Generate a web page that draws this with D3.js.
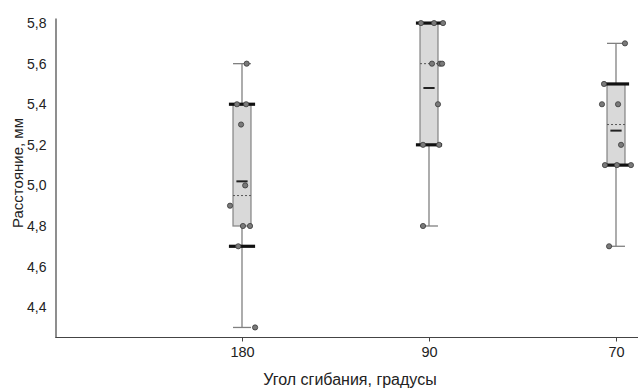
<!DOCTYPE html>
<html>
<head>
<meta charset="utf-8">
<style>
  body { margin: 0; background: #fff; }
  text { font-family: "Liberation Sans", Arial, sans-serif; }
</style>
</head>
<body>
<svg class="chart"></svg>
<script src="https://d3js.org/d3.v7.min.js"></script>
<script>
// categories (bending angle)
categories = ["180", "90", "70"]

// box statistics per category
boxLow   = [4.8, 5.2, 5.1]
boxHigh  = [5.4, 5.8, 5.5]
whiskLow = [4.3, 4.8, 4.7]
whiskHigh= [5.6, 5.8, 5.7]
means    = [5.02, 5.48, 5.27]
medians  = [4.95, 5.6, 5.3]
barLow   = [4.7, 5.2, 5.1]
barHigh  = [5.4, 5.8, 5.5]

// raw observations: value and horizontal jitter (category units)
points180 = [[4.3, 0.07], [5.6, 0.025], [5.4, -0.027], [5.4, 0.022], [5.3, -0.005], [5.0, 0.017],
             [4.9, -0.064], [4.8, 0.005], [4.8, 0.043], [4.7, -0.02]]
points90  = [[5.8, -0.043], [5.8, 0.027], [5.8, 0.075], [5.6, 0.016], [5.6, 0.059], [5.6, 0.07],
             [5.4, 0.048], [5.2, -0.032], [5.2, 0.054], [4.8, -0.032]]
points70  = [[5.7, 0.048], [5.5, -0.064], [5.4, -0.075], [5.4, 0.011], [5.2, 0.027],
             [5.1, -0.059], [5.1, 0.005], [5.1, 0.08], [4.7, -0.037]]
pointSets = [points180, points90, points70]

yTicks = [4.4, 4.6, 4.8, 5.0, 5.2, 5.4, 5.6, 5.8]

width  = 638
height = 390
margin = ({top: 18, right: 0, bottom: 52.5, left: 55.5})

x = d3.scaleLinear().domain([0, 3]).range([55, 616])
y = d3.scaleLinear().domain([4.2505, 5.825]).range([height - margin.bottom, margin.top])

const svg = d3.select("svg")
    .attr("width", width)
    .attr("height", height)
    .attr("viewBox", [0, 0, width, height]);

// axes
yAxis = g => g
    .attr("transform", `translate(${margin.left},0)`)
    .call(d3.axisLeft(y).tickValues(yTicks).tickSize(0).tickPadding(9)
        .tickFormat(d => d3.format(".1f")(d).replace(".", ",")))
    .call(g => g.select(".domain").attr("stroke", "#444").attr("stroke-width", 1.2))
    .call(g => g.selectAll("text").attr("font-size", 14).attr("fill", "#222"));

xAxis = g => g
    .attr("transform", `translate(0,${height - margin.bottom})`)
    .call(d3.axisBottom(x).tickValues([1, 2, 3]).tickSize(4).tickSizeOuter(0).tickPadding(5)
        .tickFormat(d => categories[d - 1]))
    .call(g => g.select(".domain").attr("stroke", "#444").attr("stroke-width", 1.2)
        .attr("d", `M${margin.left},0H${width}`))
    .call(g => g.selectAll(".tick line").attr("stroke", "#444"))
    .call(g => g.selectAll("text").attr("font-size", 14.5).attr("fill", "#222"));

svg.append("g").call(yAxis);
svg.append("g").call(xAxis);

const boxW = 0.048, capW = 0.048, barW = 0.07, meanW = 0.03;
const idx = d3.range(categories.length);
const g = svg.append("g");

// whiskers
g.selectAll("line.whisk")
  .data(idx)
  .join("line")
    .attr("x1", i => x(i + 1)).attr("x2", i => x(i + 1))
    .attr("y1", i => y(whiskLow[i])).attr("y2", i => y(whiskHigh[i]))
    .attr("stroke", "#808080").attr("stroke-width", 1.3);

g.selectAll("line.capLow")
  .data(idx)
  .join("line")
    .attr("x1", i => x(i + 1 - capW)).attr("x2", i => x(i + 1 + capW))
    .attr("y1", i => y(whiskLow[i])).attr("y2", i => y(whiskLow[i]))
    .attr("stroke", "#808080").attr("stroke-width", 1.3);

g.selectAll("line.capHigh")
  .data(idx)
  .join("line")
    .attr("x1", i => x(i + 1 - capW)).attr("x2", i => x(i + 1 + capW))
    .attr("y1", i => y(whiskHigh[i])).attr("y2", i => y(whiskHigh[i]))
    .attr("stroke", "#808080").attr("stroke-width", 1.3);

// boxes
g.selectAll("rect.box")
  .data(idx)
  .join("rect")
    .attr("x", i => x(i + 1 - boxW))
    .attr("width", x(1 + boxW) - x(1 - boxW))
    .attr("y", i => y(boxHigh[i]))
    .attr("height", i => y(boxLow[i]) - y(boxHigh[i]))
    .attr("fill", "#d9d9d9").attr("stroke", "#8a8a8a").attr("stroke-width", 1.3);

// median (dashed)
g.selectAll("line.median")
  .data(idx)
  .join("line")
    .attr("x1", i => x(i + 1 - boxW)).attr("x2", i => x(i + 1 + boxW))
    .attr("y1", i => y(medians[i])).attr("y2", i => y(medians[i]))
    .attr("stroke", "#555").attr("stroke-width", 1).attr("stroke-dasharray", "2,2");

// mean
g.selectAll("line.mean")
  .data(idx)
  .join("line")
    .attr("x1", i => x(i + 1 - meanW)).attr("x2", i => x(i + 1 + meanW))
    .attr("y1", i => y(means[i])).attr("y2", i => y(means[i]))
    .attr("stroke", "#222").attr("stroke-width", 2);

// thick bars
["low", "high"].forEach(k => {
  const arr = k === "low" ? barLow : barHigh;
  g.selectAll("line.bar" + k)
    .data(idx)
    .join("line")
      .attr("class", "bar" + k)
      .attr("x1", i => x(i + 1 - barW)).attr("x2", i => x(i + 1 + barW))
      .attr("y1", i => y(arr[i])).attr("y2", i => y(arr[i]))
      .attr("stroke", "#111").attr("stroke-width", 3.2);
});

// points
pointSets.forEach((pts, i) => {
  g.append("g").selectAll("circle")
    .data(pts)
    .join("circle")
      .attr("cx", d => x(i + 1 + d[1]))
      .attr("cy", d => y(d[0]))
      .attr("r", 2.6)
      .attr("fill", "#7a7a7a")
      .attr("stroke", "#3a3a3a")
      .attr("stroke-width", 0.8);
});

// axis titles
svg.append("text")
    .attr("transform", "translate(23,173) rotate(-90)")
    .attr("text-anchor", "middle")
    .attr("font-size", 15).attr("fill", "#222")
    .text("Расстояние, мм");

svg.append("text")
    .attr("x", 350).attr("y", 385)
    .attr("text-anchor", "middle")
    .attr("font-size", 16).attr("fill", "#222")
    .text("Угол сгибания, градусы");
</script>
</body>
</html>
